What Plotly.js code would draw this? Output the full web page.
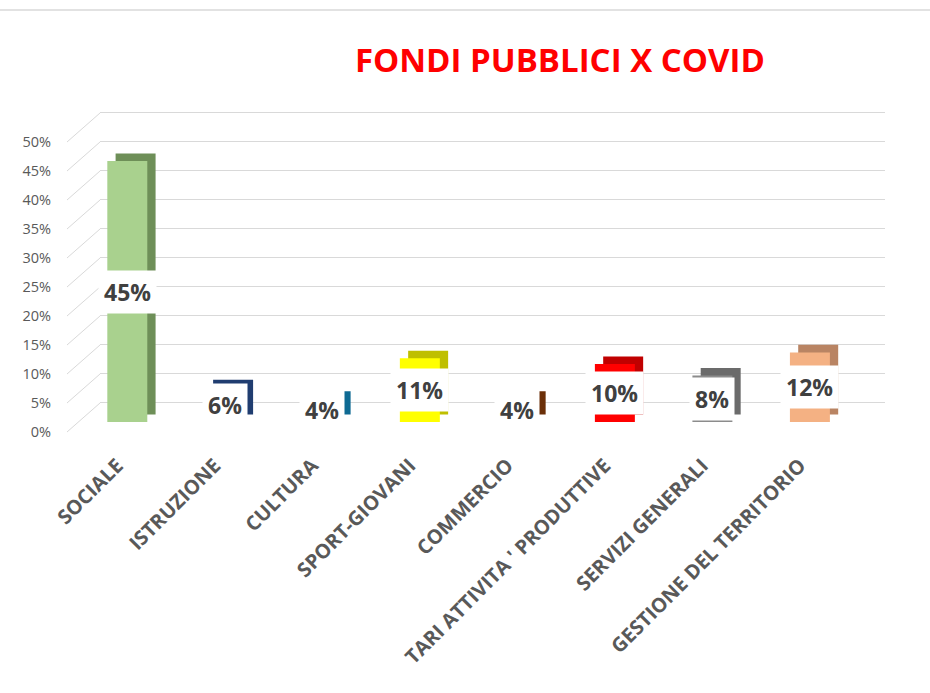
<!DOCTYPE html>
<html>
<head>
<meta charset="utf-8">
<script src="https://cdn.plot.ly/plotly-3.0.1.min.js"></script>
<style>
  body { margin: 0; background: #fff; }
  #plotArea { width: 930px; height: 693px; }
</style>
</head>
<body>
<div id="plotArea"></div>
<script>
// chart data
var categories = ["SOCIALE", "ISTRUZIONE", "CULTURA", "SPORT-GIOVANI", "COMMERCIO",
  "TARI ATTIVITA ' PRODUTTIVE", "SERVIZI GENERALI", "GESTIONE DEL TERRITORIO"];
var shares = [0.45, 0.06, 0.04, 0.11, 0.04, 0.10, 0.08, 0.12];
var frontColors = ["#A9D18E", "#2F5597", "#1A8CBF", "#FFFF00", "#843C0C", "#FF0000", "#8C8C8C", "#F4B183"];
var sideColors = ["#6E8F58", "#203D70", "#0E6A93", "#BFBF00", "#6B2F08", "#C00000", "#6B6B6B", "#B98463"];
var tickVals = [0, 0.05, 0.1, 0.15, 0.2, 0.25, 0.3, 0.35, 0.4, 0.45, 0.5];

var idx = categories.map((c, i) => i);

// dark side of each bar, pushed a bit right and up to fake the 3D look
var sideTrace = {
  x: idx,
  y: shares,
  base: shares.map(() => 0.013),
  type: "bar",
  width: 0.41,
  offset: -0.12,
  marker: {color: sideColors},
  hoverinfo: "skip"
};

var frontTrace = {
  x: idx,
  y: shares,
  type: "bar",
  width: 0.41,
  offset: -0.205,
  marker: {color: frontColors},
  hovertemplate: "%{y:.0%}<extra></extra>"
};

// white value boxes in the middle of each bar
var labels = shares.map((v, i) => ({
  x: i,
  y: v / 2,
  xref: "x",
  yref: "y",
  text: Math.round(v * 100) + "%",
  showarrow: false,
  bgcolor: "#ffffff",
  borderpad: 5,
  font: {family: "Open Sans", size: 23, color: "#404040", weight: "bold"}
}));

// plot area runs from y=103 to y=435 px, 580 px per 100%
function py(pix) { return (435 - pix) / 332; }
// short side-wall strokes from the labels to the back wall
var shapes = tickVals.map(t => ({
  type: "line",
  xref: "paper", yref: "paper",
  x0: -33 / 785, x1: 0,
  y0: py(432 - t * 580), y1: py(403 - t * 580),
  line: {color: "#D9D9D9", width: 1}
}));
shapes.push({
  type: "line", xref: "paper", yref: "paper",
  x0: -100 / 785, x1: 830 / 785, y0: py(10), y1: py(10),
  line: {color: "#D9D9D9", width: 1.5}
});

var layout = {
  width: 930,
  height: 693,
  margin: {l: 100, r: 45, t: 103, b: 258},
  paper_bgcolor: "#ffffff",
  plot_bgcolor: "rgba(0,0,0,0)",
  showlegend: false,
  barmode: "overlay",
  title: {
    text: "FONDI PUBBLICI X COVID",
    font: {family: "Open Sans", size: 33, color: "#FF0000", weight: "bold"},
    xref: "container", x: 0.602, xanchor: "center",
    yref: "container", y: 0.913, yanchor: "middle"
  },
  xaxis: {
    range: [-0.28, 7.77],
    tickmode: "array",
    tickvals: idx,
    ticktext: categories,
    tickangle: -45,
    ticks: "",
    ticklabelstandoff: 14,
    ticklabelshift: -10,
    showgrid: false,
    zeroline: false,
    showline: false,
    tickfont: {family: "Open Sans", size: 20, color: "#595959", weight: "bold"}
  },
  // bars
  yaxis: {
    range: [-0.0224, 0.55],
    showticklabels: false,
    showgrid: false,
    zeroline: false,
    showline: false,
    ticks: ""
  },
  // tick labels (front edge)
  yaxis2: {
    overlaying: "y",
    range: [-0.0052, 0.5672],
    tickmode: "array",
    tickvals: tickVals,
    tickformat: ".0%",
    ticklabelstandoff: 48,
    showgrid: false,
    zeroline: false,
    showline: false,
    ticks: "",
    tickfont: {family: "Open Sans", size: 14.5, color: "#595959"}
  },
  // back wall gridlines
  yaxis3: {
    overlaying: "y",
    range: [-0.0552, 0.5172],
    tickmode: "array",
    tickvals: tickVals,
    showticklabels: false,
    showgrid: true,
    gridcolor: "#D9D9D9",
    gridwidth: 1,
    zeroline: false,
    showline: false,
    ticks: ""
  },
  annotations: labels,
  shapes: shapes
};

// dummy traces so the helper axes get drawn
var labelAxisTrace = {x: [0], y: [null], yaxis: "y2", type: "scatter", hoverinfo: "skip"};
var gridAxisTrace = {x: [0], y: [null], yaxis: "y3", type: "scatter", hoverinfo: "skip"};

Plotly.newPlot("plotArea", [labelAxisTrace, gridAxisTrace, sideTrace, frontTrace], layout, {displayModeBar: false});
</script>
</body>
</html>
